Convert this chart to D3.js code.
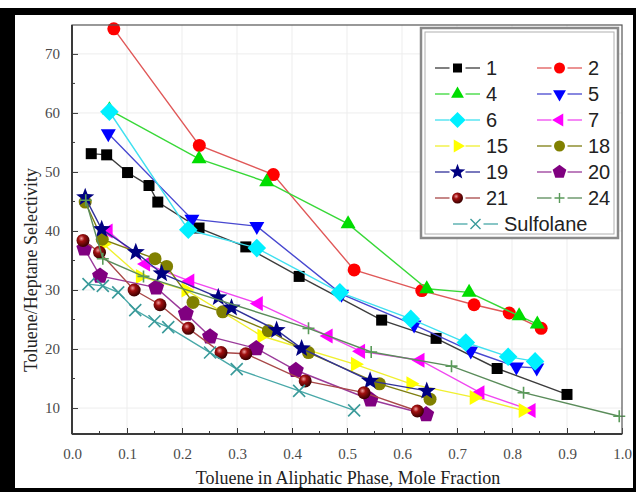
<!DOCTYPE html>
<html>
<head>
<meta charset="utf-8">
<script src="https://cdn.jsdelivr.net/npm/d3@7"></script>
<style>
  body { margin: 0; background: #fff; }
  svg { display: block; }
</style>
</head>
<body>
<div id="chart"></div>
<script>
// series values (x = toluene mole fraction, y = selectivity)
var s1x = [0.035, 0.063, 0.101, 0.14, 0.156, 0.231, 0.316, 0.413, 0.563, 0.662, 0.773, 0.9];
var s1y = [53.1, 52.9, 49.9, 47.7, 44.9, 40.5, 37.3, 32.3, 24.9, 21.8, 16.7, 12.3];
var s2x = [0.076, 0.2315, 0.366, 0.513, 0.636, 0.731, 0.795, 0.853];
var s2y = [74.25, 54.5, 49.55, 33.4, 29.9, 27.5, 26.1, 23.5];
var s4x = [0.068, 0.231, 0.354, 0.502, 0.645, 0.722, 0.813, 0.846];
var s4y = [60.5, 52.2, 48.3, 41.2, 30.2, 29.6, 25.6, 24.2];
var s5x = [0.066, 0.218, 0.336, 0.49, 0.622, 0.725, 0.808, 0.845];
var s5y = [56.5, 42.0, 40.8, 29.3, 24.1, 19.7, 17.0, 16.8];
var s6x = [0.068, 0.2115, 0.336, 0.487, 0.616, 0.716, 0.793, 0.842];
var s6y = [60.2, 40.2, 37.1, 29.6, 25.1, 21.1, 18.7, 17.9];
var s7x = [0.066, 0.134, 0.2145, 0.339, 0.466, 0.525, 0.633, 0.742, 0.835];
var s7y = [40.0, 34.4, 31.5, 27.7, 22.2, 19.6, 18.1, 12.6, 9.6];
var s15x = [0.057, 0.124, 0.207, 0.345, 0.515, 0.616, 0.731, 0.82];
var s15y = [37.8, 32.3, 30.0, 22.2, 17.4, 14.1, 11.8, 9.6];
var s18x = [0.024, 0.055, 0.151, 0.172, 0.22, 0.274, 0.357, 0.43, 0.559, 0.651];
var s18y = [44.9, 38.6, 35.3, 34.0, 27.9, 26.3, 23.1, 19.4, 14.1, 11.5];
var s19x = [0.024, 0.054, 0.116, 0.163, 0.266, 0.29, 0.372, 0.4175, 0.542, 0.645];
var s19y = [45.7, 40.3, 36.4, 32.8, 28.75, 27.0, 23.2, 20.1, 14.6, 12.9];
var s20x = [0.0225, 0.051, 0.153, 0.207, 0.251, 0.335, 0.407, 0.543, 0.644];
var s20y = [37.0, 32.4, 30.4, 26.0, 22.1, 20.1, 16.4, 11.4, 8.9];
var s21x = [0.02, 0.05, 0.113, 0.16, 0.2115, 0.271, 0.316, 0.424, 0.531, 0.628];
var s21y = [38.4, 36.4, 30.0, 27.5, 23.5, 19.4, 19.2, 14.6, 12.6, 9.5];
var s24x = [0.025, 0.056, 0.13, 0.43, 0.544, 0.69, 0.821, 0.995];
var s24y = [45.2, 35.3, 32.3, 23.5, 19.5, 17.1, 12.6, 8.6];
var sulfX = [0.03, 0.056, 0.084, 0.115, 0.15, 0.175, 0.251, 0.2995, 0.413, 0.513];
var sulfY = [31.0, 30.7, 29.6, 26.6, 24.7, 23.7, 19.4, 16.6, 12.9, 9.6];

var seriesNames = ["1", "2", "4", "5", "6", "7", "15", "18", "19", "20", "21", "24", "Sulfolane"];
var xTicks = [0, 0.1, 0.2, 0.3, 0.4, 0.5, 0.6, 0.7, 0.8, 0.9, 1.0];
var yTicks = [10, 20, 30, 40, 50, 60, 70];

var W = 636, H = 492;
var plotL = 72, plotR = 622, plotT = 25, plotB = 434;

var svg = d3.select("#chart").append("svg")
	.attr("width", W).attr("height", H);

svg.append("rect").attr("width", W).attr("height", H).attr("fill", "#fff");

var defs = svg.append("defs");
var grad = defs.append("radialGradient").attr("id", "sphere")
	.attr("cx", "38%").attr("cy", "35%").attr("r", "65%");
grad.append("stop").attr("offset", "0%").attr("stop-color", "#f0a0a0");
grad.append("stop").attr("offset", "35%").attr("stop-color", "#a01010");
grad.append("stop").attr("offset", "100%").attr("stop-color", "#3a0000");

var x = d3.scaleLinear().domain([0, 1]).range([plotL, plotR]);
var y = d3.scaleLinear().domain([5.6, 74.9]).range([plotB, plotT]);

// faint grid
var grid = svg.append("g");
grid.selectAll(".gx").data(xTicks.slice(1, -1)).enter().append("line")
	.attr("x1", function(d){ return x(d); }).attr("x2", function(d){ return x(d); })
	.attr("y1", plotT).attr("y2", plotB)
	.attr("stroke", "#ededed").attr("stroke-width", 1);
grid.selectAll(".gy").data(yTicks).enter().append("line")
	.attr("x1", plotL).attr("x2", plotR)
	.attr("y1", function(d){ return y(d); }).attr("y2", function(d){ return y(d); })
	.attr("stroke", "#ededed").attr("stroke-width", 1);

// marker shapes
function polyPath(n, r, rot){
	var pts = [];
	for (var i = 0; i < n; i++) {
		var a = rot + i * 2 * Math.PI / n;
		pts.push([r * Math.cos(a), r * Math.sin(a)]);
	}
	return "M" + pts.join("L") + "Z";
}
function starPath(r){
	var pts = [];
	for (var i = 0; i < 10; i++) {
		var a = -Math.PI / 2 + i * Math.PI / 5;
		var rr = i % 2 == 0 ? r : r * 0.42;
		pts.push([rr * Math.cos(a), rr * Math.sin(a)]);
	}
	return "M" + pts.join("L") + "Z";
}
var shapes = {
	square: function(s){ return "M" + (-s/2) + "," + (-s/2) + "h" + s + "v" + s + "h" + (-s) + "Z"; },
	circle: function(s){ return d3.symbol().type(d3.symbolCircle).size(Math.PI * s * s / 4)(); },
	up: function(s){ return polyPath(3, s * 0.62, -Math.PI / 2); },
	down: function(s){ return polyPath(3, s * 0.62, Math.PI / 2); },
	leftT: function(s){ return polyPath(3, s * 0.62, Math.PI); },
	rightT: function(s){ return polyPath(3, s * 0.62, 0); },
	diamond: function(s){ return polyPath(4, s * 0.62, 0); },
	star: function(s){ return starPath(s * 0.68); },
	pentagon: function(s){ return polyPath(5, s * 0.6, -Math.PI / 2); },
	plus: function(s){ var h = s / 2; return "M" + (-h) + ",0H" + h + "M0," + (-h) + "V" + h; },
	cross: function(s){ var h = s / 2; return "M" + (-h) + "," + (-h) + "L" + h + "," + h + "M" + (-h) + "," + h + "L" + h + "," + (-h); }
};

var series = [
	{ xs: s1x, ys: s1y, line: "#3c3c3c", fill: "#000000", shape: "square", size: 11 },
	{ xs: s2x, ys: s2y, line: "#e05858", fill: "#ff0000", shape: "circle", size: 13 },
	{ xs: s4x, ys: s4y, line: "#38d838", fill: "#00dd00", shape: "up", size: 14 },
	{ xs: s5x, ys: s5y, line: "#4848d0", fill: "#0000ff", shape: "down", size: 14 },
	{ xs: s6x, ys: s6y, line: "#40e0f0", fill: "#00f0ff", shape: "diamond", size: 15 },
	{ xs: s7x, ys: s7y, line: "#f048f0", fill: "#ff00ff", shape: "leftT", size: 14 },
	{ xs: s15x, ys: s15y, line: "#f0f030", fill: "#ffff00", shape: "rightT", size: 14 },
	{ xs: s18x, ys: s18y, line: "#7e7e10", fill: "#808000", shape: "circle", size: 13 },
	{ xs: s19x, ys: s19y, line: "#30309a", fill: "#000080", shape: "star", size: 14 },
	{ xs: s20x, ys: s20y, line: "#9a3a9a", fill: "#800080", shape: "pentagon", size: 14 },
	{ xs: s21x, ys: s21y, line: "#a84848", fill: "url(#sphere)", shape: "circle", size: 13 },
	{ xs: s24x, ys: s24y, line: "#5a8c5a", fill: "#5a9a5a", shape: "plus", size: 12 },
	{ xs: sulfX, ys: sulfY, line: "#48a8a8", fill: "#3a9a9a", shape: "cross", size: 12 }
];

var lineGen = d3.line()
	.x(function(d){ return x(d[0]); })
	.y(function(d){ return y(d[1]); });

var plot = svg.append("g");
series.forEach(function(s){
	var pts = s.xs.map(function(v, i){ return [v, s.ys[i]]; });
	var open = s.shape == "plus" || s.shape == "cross";
	plot.append("path")
		.attr("d", lineGen(pts))
		.attr("fill", "none")
		.attr("stroke", s.line)
		.attr("stroke-width", 1.4);
	plot.selectAll(null).data(pts).enter().append("path")
		.attr("d", shapes[s.shape](s.size))
		.attr("transform", function(d){ return "translate(" + x(d[0]) + "," + y(d[1]) + ")"; })
		.attr("fill", open ? "none" : s.fill)
		.attr("stroke", open ? s.fill : "none")
		.attr("stroke-width", 1.6);
});

// axes (ticks inward, Origin style)
var axisColor = "#3a3a3a";
var xAxis = d3.axisBottom(x).tickValues(xTicks).tickFormat(d3.format(".1f")).tickSize(-6).tickPadding(14);
var yAxis = d3.axisLeft(y).tickValues(yTicks).tickFormat(d3.format("d")).tickSize(-6).tickPadding(12);

var gX = svg.append("g").attr("transform", "translate(0," + plotB + ")").call(xAxis);
var gY = svg.append("g").attr("transform", "translate(" + plotL + ",0)").call(yAxis);

gX.selectAll(".x-minor").data(d3.range(0.05, 1, 0.1)).enter().append("line")
	.attr("x1", function(d){ return x(d); }).attr("x2", function(d){ return x(d); })
	.attr("y1", 0).attr("y2", -3).attr("stroke", axisColor);
gY.selectAll(".y-minor").data(d3.range(15, 75, 10)).enter().append("line")
	.attr("x1", 0).attr("x2", 3)
	.attr("y1", function(d){ return y(d); }).attr("y2", function(d){ return y(d); })
	.attr("stroke", axisColor);

[gX, gY].forEach(function(g){
	g.select(".domain").remove();
	g.selectAll(".tick line").attr("stroke", axisColor).attr("stroke-width", 1);
	g.selectAll("text")
		.attr("fill", "#4a4a4a")
		.style("font-family", "'Liberation Serif', 'DejaVu Serif', serif")
		.style("font-size", "15px");
});

// frame
svg.append("rect")
	.attr("x", plotL).attr("y", plotT)
	.attr("width", plotR - plotL).attr("height", plotB - plotT)
	.attr("fill", "none").attr("stroke", "#555").attr("stroke-width", 1.2);
svg.append("line")
	.attr("x1", plotL).attr("x2", plotR).attr("y1", plotB).attr("y2", plotB)
	.attr("stroke", axisColor).attr("stroke-width", 2);
svg.append("line")
	.attr("x1", plotL).attr("x2", plotL).attr("y1", plotT).attr("y2", plotB)
	.attr("stroke", axisColor).attr("stroke-width", 2);

// axis titles
svg.append("text")
	.attr("x", 348).attr("y", 484)
	.attr("text-anchor", "middle")
	.style("font-family", "'Liberation Serif', 'DejaVu Serif', serif")
	.style("font-size", "18px")
	.attr("fill", "#222")
	.text("Toluene in Aliphatic Phase, Mole Fraction");
svg.append("text")
	.attr("transform", "translate(37,270) rotate(-90)")
	.attr("text-anchor", "middle")
	.style("font-family", "'Liberation Serif', 'DejaVu Serif', serif")
	.style("font-size", "18px")
	.attr("fill", "#222")
	.text("Toluene/Heptane Selectivity");

// legend
var lg = svg.append("g");
lg.append("rect").attr("x", 421).attr("y", 28).attr("width", 197).attr("height", 210)
	.attr("fill", "#fff").attr("stroke", "#8a8a8a").attr("stroke-width", 2.5);
lg.append("rect").attr("x", 425).attr("y", 32).attr("width", 189).attr("height", 202)
	.attr("fill", "none").attr("stroke", "#b0b0b0").attr("stroke-width", 1);

series.forEach(function(s, i){
	var last = i == series.length - 1;
	var col = i % 2;
	var row = Math.floor(i / 2);
	var cy = 68 + row * 26;
	var x0 = last ? 453 : (col == 0 ? 435 : 537);
	var x1 = x0 + 45;
	var mx = (x0 + x1) / 2;
	lg.append("line").attr("x1", x0).attr("x2", mx - 8).attr("y1", cy).attr("y2", cy)
		.attr("stroke", s.line).attr("stroke-width", 1.3);
	lg.append("line").attr("x1", mx + 8).attr("x2", x1).attr("y1", cy).attr("y2", cy)
		.attr("stroke", s.line).attr("stroke-width", 1.3);
	var open = s.shape == "plus" || s.shape == "cross";
	lg.append("path")
		.attr("d", shapes[s.shape](s.size - 2))
		.attr("transform", "translate(" + mx + "," + cy + ")")
		.attr("fill", open ? "none" : s.fill)
		.attr("stroke", open ? s.fill : "none")
		.attr("stroke-width", 1.4);
	lg.append("text")
		.attr("x", x1 + 6).attr("y", cy).attr("dy", "0.36em")
		.style("font-family", "'Liberation Sans', Arial, sans-serif")
		.style("font-size", "20px")
		.attr("fill", "#222")
		.text(seriesNames[i]);
});

// black photo frame
svg.append("rect").attr("x", 0).attr("y", 8).attr("width", W).attr("height", 7).attr("fill", "#000");
svg.append("rect").attr("x", 0).attr("y", 8).attr("width", 15).attr("height", H - 8).attr("fill", "#000");
svg.append("rect").attr("x", 0).attr("y", 488).attr("width", W).attr("height", 4).attr("fill", "#000");
svg.append("rect").attr("x", 633).attr("y", 8).attr("width", 3).attr("height", H - 8).attr("fill", "#000");
</script>
</body>
</html>
